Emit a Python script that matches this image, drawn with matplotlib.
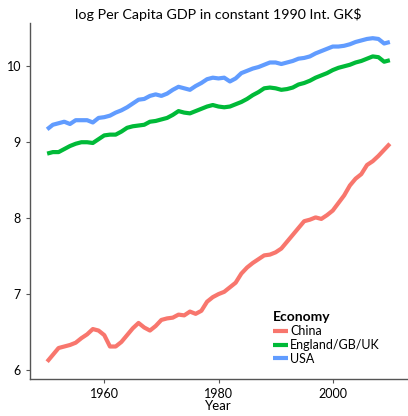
import matplotlib
matplotlib.use("Agg")
import matplotlib.pyplot as plt

plt.rcParams['font.family'] = ['Lato', 'DejaVu Sans']

years = list(range(1950, 2011))

china = [6.11, 6.20, 6.29, 6.31, 6.33, 6.36, 6.42, 6.47, 6.54, 6.52,
         6.46, 6.31, 6.31, 6.37, 6.46, 6.55, 6.62, 6.56, 6.52, 6.58,
         6.66, 6.68, 6.69, 6.73, 6.72, 6.77, 6.74, 6.78, 6.90, 6.96,
         7.00, 7.03, 7.09, 7.15, 7.27, 7.35, 7.41, 7.46, 7.51, 7.52,
         7.55, 7.60, 7.69, 7.78, 7.87, 7.96, 7.98, 8.01, 7.99, 8.04,
         8.10, 8.20, 8.30, 8.43, 8.52, 8.58, 8.70, 8.75, 8.82, 8.90,
         8.98]

uk = [8.85, 8.87, 8.87, 8.91, 8.95, 8.98, 9.00, 9.00, 8.99, 9.04,
      9.09, 9.10, 9.10, 9.14, 9.19, 9.21, 9.22, 9.23, 9.27, 9.28,
      9.30, 9.32, 9.36, 9.41, 9.39, 9.38, 9.41, 9.44, 9.47, 9.49,
      9.47, 9.46, 9.47, 9.50, 9.53, 9.57, 9.62, 9.66, 9.71, 9.72,
      9.71, 9.69, 9.70, 9.72, 9.76, 9.78, 9.81, 9.85, 9.88, 9.91,
      9.95, 9.98, 10.00, 10.02, 10.05, 10.07, 10.10, 10.13, 10.12, 10.06,
      10.08]

usa = [9.17, 9.23, 9.25, 9.27, 9.24, 9.29, 9.29, 9.29, 9.26, 9.32,
       9.33, 9.35, 9.39, 9.42, 9.46, 9.51, 9.56, 9.57, 9.61, 9.63,
       9.61, 9.64, 9.69, 9.73, 9.71, 9.69, 9.74, 9.78, 9.83, 9.85,
       9.84, 9.85, 9.80, 9.84, 9.91, 9.94, 9.97, 9.99, 10.02, 10.05,
       10.05, 10.03, 10.05, 10.07, 10.10, 10.11, 10.13, 10.17, 10.20, 10.23,
       10.26, 10.26, 10.27, 10.29, 10.32, 10.34, 10.36, 10.37, 10.36, 10.30,
       10.32]

economies = ["China", "England/GB/UK", "USA"]
colors = ["#F8766D", "#00BA38", "#619CFF"]

fig = plt.figure(figsize=(4.08, 4.16), dpi=100)
ax = fig.add_axes([30 / 408, 1 - 378.7 / 416, 377 / 408, (378.7 - 23) / 416])

for name, vals, col in zip(economies, [china, uk, usa], colors):
    ax.plot(years, vals, color=col, lw=3, label=name, solid_capstyle='butt')

ax.set_xlim(1947, 2013)
ax.set_ylim(5.886, 10.57)
ax.set_xticks([1960, 1980, 2000])
ax.set_yticks([6, 7, 8, 9, 10])

for s in ['top', 'right']:
    ax.spines[s].set_visible(False)
for s in ['left', 'bottom']:
    ax.spines[s].set_color('#555555')
    ax.spines[s].set_linewidth(1.0)
ax.tick_params(colors='#555555', labelcolor='black', labelsize=9, length=3)

ax.set_xlabel("Year", fontsize=9.5, labelpad=0)
ax.set_title("log Per Capita GDP in constant 1990 Int. GK$", fontsize=10.3, pad=3)

leg = ax.legend(title="Economy", loc='lower left', bbox_to_anchor=(0.63, 0.025),
                frameon=False, fontsize=9, handlelength=1.2, handletextpad=0.2,
                labelspacing=0.15, borderaxespad=0)
leg.get_title().set_fontweight('bold')
leg.get_title().set_fontsize(10)
leg._legend_box.align = "left"

fig.savefig("out.png", dpi=100)
